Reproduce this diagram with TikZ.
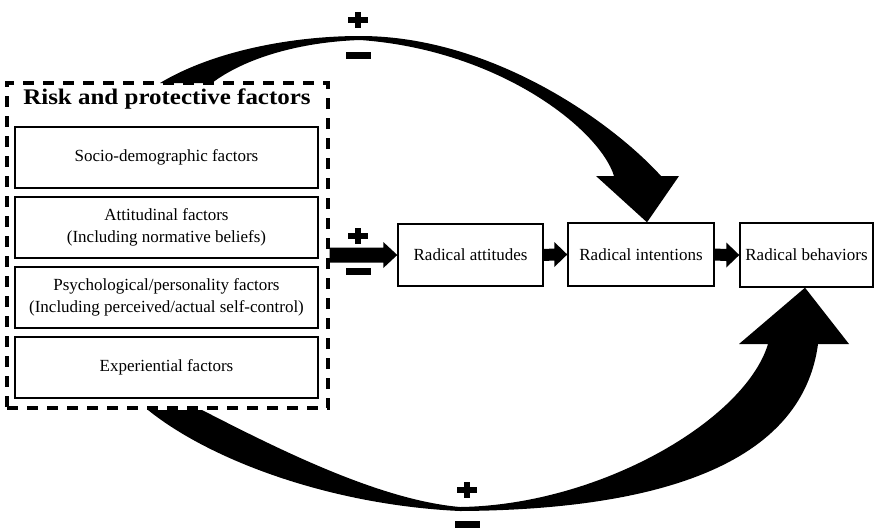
\documentclass[tikz,border=0pt]{standalone}
\usepackage{fontspec}
\setmainfont{Liberation Serif}
\newfontfamily\titlefont[FakeStretch=1.12]{Liberation Serif}
\usetikzlibrary{calc}
\newcommand\blkarrow[5]{\fill ($(#1)+(0,-#3)$) -- ($(#2)+(-#5,-#3)$) -- ($(#2)+(-#5,-#4)$) -- (#2) -- ($(#2)+(-#5,#4)$) -- ($(#2)+(-#5,#3)$) -- ($(#1)+(0,#3)$) -- cycle;}
\begin{document}
\begin{tikzpicture}[x=1pt,y=-1pt,
  txt/.style={font=\fontsize{17}{22}\selectfont, align=center, inner sep=0pt},
  fbox/.style={txt, draw, line width=1.7pt, minimum width=303pt, minimum height=61pt},
  rbox/.style={txt, draw, line width=1.4pt},
  plussign/.pic={\fill (-10,-2.8) rectangle (10,2.8); \fill (-2.8,-8) rectangle (2.8,8);},
  minussign/.pic={\fill (-12.5,-3.5) rectangle (12.5,3.5);}
]
\useasboundingbox (0,0) rectangle (877,528);

% nodes
\node (risk) [draw, line width=3.2pt, dash pattern=on 11pt off 9pt, minimum width=321pt, minimum height=325pt, inner sep=0pt] at (167.5,245.5) {};
\node (title) [font=\titlefont\bfseries\fontsize{22.3}{26}\selectfont, inner sep=0pt] at (167,99) {Risk and protective factors};
\node (f1) [fbox] at (166.5,157.5) {Socio-demographic factors};
\node (f2) [fbox] at (166.5,227.5) {Attitudinal factors\\(Including normative beliefs)};
\node (f3) [fbox] at (166.5,297.5) {Psychological/personality factors\\(Including perceived/actual self-control)};
\node (f4) [fbox] at (166.5,367.5) {Experiential factors};

\node (att) [rbox, minimum width=145pt, minimum height=62pt] at (470.5,255) {Radical attitudes};
\node (int) [rbox, minimum width=146pt, minimum height=63pt] at (641,254.5) {Radical intentions};
\node (beh) [rbox, minimum width=133pt, minimum height=64pt] at (806.5,255) {Radical behaviors};

% tips of curved arrows
\coordinate (toptip) at ($(int.north)+(6,0)$);
\coordinate (bottip) at ($(beh.south)+(-1.5,0)$);

% straight block arrows
\blkarrow{risk.east |- att.west}{att.west}{7.5}{13}{14}
\blkarrow{att.east}{int.west}{6}{12.5}{13}
\blkarrow{int.east}{beh.west}{6}{12.5}{13}

% top curved arrow
\fill (160,83) .. controls (215,50) and (295,36) .. (360,36)
  .. controls (490,36) and (610,120) .. (661,176)
  -- (679,176) -- (toptip) -- (596,176) -- (614,176)
  .. controls (600,130) and (500,50) .. (360,40)
  .. controls (300,42) and (245,58) .. (212,83) -- cycle;

% bottom curved arrow
\fill (148,410) .. controls (210,460) and (330,505) .. (460,511)
  .. controls (620,510) and (800,480) .. (818,344)
  -- (849,344) -- (bottip) -- (739,344) -- (768,344)
  .. controls (745,420) and (600,505) .. (460,507)
  .. controls (380,500) and (280,450) .. (202,410) -- cycle;

% signs
\pic at (358,20) {plussign};
\pic at (358,55) {minussign};
\pic at (358,236) {plussign};
\pic at (358,271) {minussign};
\pic at (467,490) {plussign};
\pic at (467,524) {minussign};
\end{tikzpicture}
\end{document}
